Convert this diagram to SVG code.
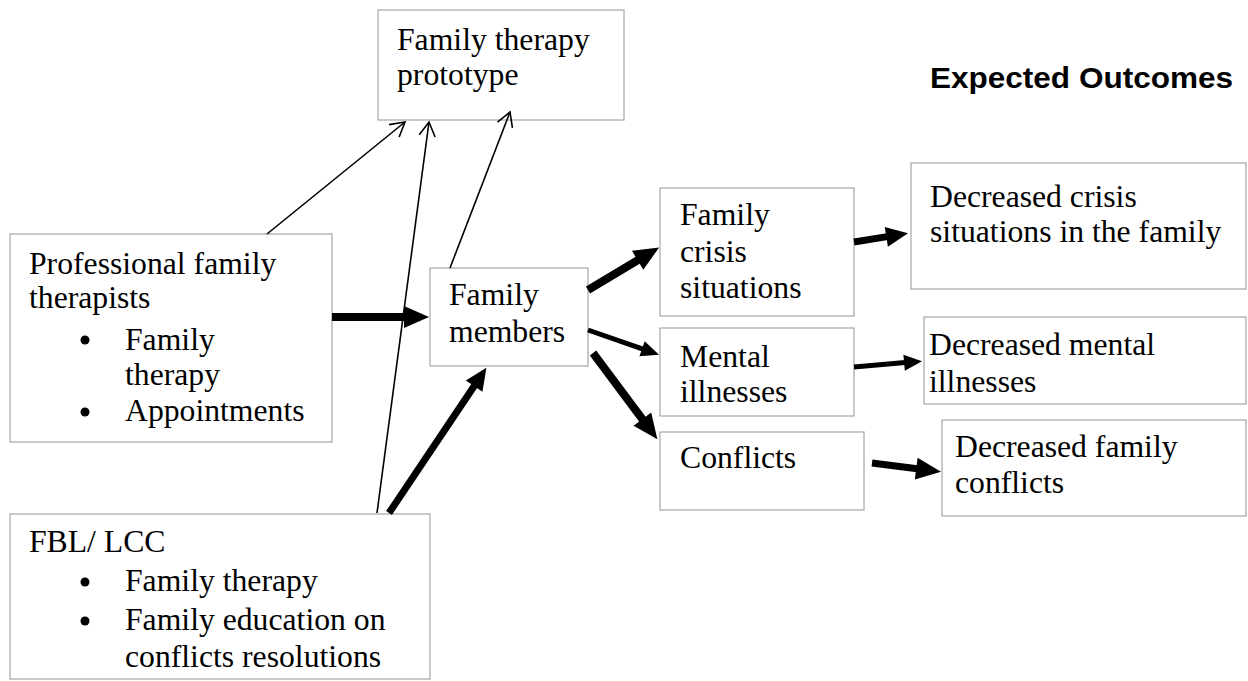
<svg xmlns="http://www.w3.org/2000/svg" width="1248" height="681" viewBox="0 0 1248 681">
<style>
.box{fill:#fff;stroke:#a6a6a6;stroke-width:1.2}
.t{font-family:"Liberation Serif","Times New Roman",serif;font-size:31.7px;fill:#000}
.h{font-family:"Liberation Sans",Arial,sans-serif;font-size:30px;font-weight:bold;fill:#000}
.thin{stroke:#000;stroke-width:1.6;fill:none;marker-end:url(#open)}
.thick{stroke:#000;fill:none}
</style>
<defs>
<marker id="open" markerUnits="userSpaceOnUse" markerWidth="30" markerHeight="30" refX="0" refY="0" orient="auto" overflow="visible">
<path d="M-14,-8 L0,0 L-14,8" fill="none" stroke="#000" stroke-width="1.6"/>
</marker>
<marker id="big" markerUnits="userSpaceOnUse" markerWidth="30" markerHeight="30" refX="1" refY="0" orient="auto" overflow="visible">
<path d="M0,-11 L25,0 L0,11 z" fill="#000"/>
</marker>
<marker id="mid" markerUnits="userSpaceOnUse" markerWidth="30" markerHeight="30" refX="1" refY="0" orient="auto" overflow="visible">
<path d="M0,-10 L22,0 L0,10 z" fill="#000"/>
</marker>
<marker id="small" markerUnits="userSpaceOnUse" markerWidth="30" markerHeight="30" refX="1" refY="0" orient="auto" overflow="visible">
<path d="M0,-8 L18,0 L0,8 z" fill="#000"/>
</marker>
</defs>

<text class="h" x="930" y="88" textLength="303" lengthAdjust="spacingAndGlyphs">Expected Outcomes</text>

<g id="prototype">
<rect class="box" x="378" y="10" width="246" height="110"/>
<text class="t"><tspan x="397" y="50">Family therapy</tspan><tspan x="397" y="85">prototype</tspan></text>
</g>

<g id="professional">
<rect class="box" x="10" y="234" width="322" height="208"/>
<text class="t"><tspan x="29" y="274">Professional family</tspan><tspan x="29" y="308">therapists</tspan><tspan x="125" y="350">Family</tspan><tspan x="125" y="385">therapy</tspan><tspan x="125" y="421">Appointments</tspan></text>
<circle cx="85" cy="340" r="4.5"/>
<circle cx="85" cy="412" r="4.5"/>
</g>

<g id="family-members">
<rect class="box" x="430" y="268" width="158" height="98"/>
<text class="t"><tspan x="449" y="305">Family</tspan><tspan x="449" y="342">members</tspan></text>
</g>

<g id="fbl-lcc">
<rect class="box" x="10" y="514" width="420" height="165"/>
<text class="t"><tspan x="29" y="552">FBL/ LCC</tspan><tspan x="125" y="591">Family therapy</tspan><tspan x="125" y="630">Family education on</tspan><tspan x="125" y="667">conflicts resolutions</tspan></text>
<circle cx="85" cy="582" r="4.5"/>
<circle cx="85" cy="621" r="4.5"/>
</g>

<g id="family-crisis">
<rect class="box" x="660" y="188" width="194" height="128"/>
<text class="t"><tspan x="680" y="225">Family</tspan><tspan x="680" y="262">crisis</tspan><tspan x="680" y="298">situations</tspan></text>
</g>

<g id="mental-illnesses">
<rect class="box" x="660" y="328" width="194" height="88"/>
<text class="t"><tspan x="680" y="367">Mental</tspan><tspan x="680" y="402">illnesses</tspan></text>
</g>

<g id="conflicts">
<rect class="box" x="660" y="432" width="204" height="78"/>
<text class="t" x="680" y="468">Conflicts</text>
</g>

<g id="decreased-crisis">
<rect class="box" x="911" y="163" width="335" height="126"/>
<text class="t"><tspan x="930" y="207">Decreased crisis</tspan><tspan x="930" y="242">situations in the family</tspan></text>
</g>

<g id="decreased-mental">
<rect class="box" x="924" y="317" width="322" height="87"/>
<text class="t"><tspan x="929" y="355">Decreased mental</tspan><tspan x="929" y="392">illnesses</tspan></text>
</g>

<g id="decreased-conflicts">
<rect class="box" x="942" y="420" width="304" height="96"/>
<text class="t"><tspan x="955" y="457">Decreased family</tspan><tspan x="955" y="493">conflicts</tspan></text>
</g>

<g id="connectors">
<line class="thin" x1="267" y1="234" x2="405" y2="122"/>
<line class="thin" x1="377" y1="513" x2="429" y2="122"/>
<line class="thin" x1="450" y1="268" x2="510" y2="112"/>
<line class="thick" stroke-width="8" x1="332" y1="317" x2="405" y2="317" marker-end="url(#big)"/>
<line class="thick" stroke-width="7" x1="389" y1="513" x2="474.7" y2="385.3" marker-end="url(#mid)"/>
<line class="thick" stroke-width="8" x1="588" y1="290" x2="638.5" y2="259.8" marker-end="url(#big)"/>
<line class="thick" stroke-width="5" x1="588" y1="330" x2="643" y2="349.1" marker-end="url(#small)"/>
<line class="thick" stroke-width="8" x1="593" y1="353" x2="643" y2="420" marker-end="url(#big)"/>
<line class="thick" stroke-width="7" x1="854" y1="242" x2="887.3" y2="236.6" marker-end="url(#mid)"/>
<line class="thick" stroke-width="5" x1="854" y1="367" x2="905.1" y2="362.6" marker-end="url(#small)"/>
<line class="thick" stroke-width="7" x1="872" y1="463" x2="917.2" y2="468.8" marker-end="url(#big)"/>
</g>
</svg>
